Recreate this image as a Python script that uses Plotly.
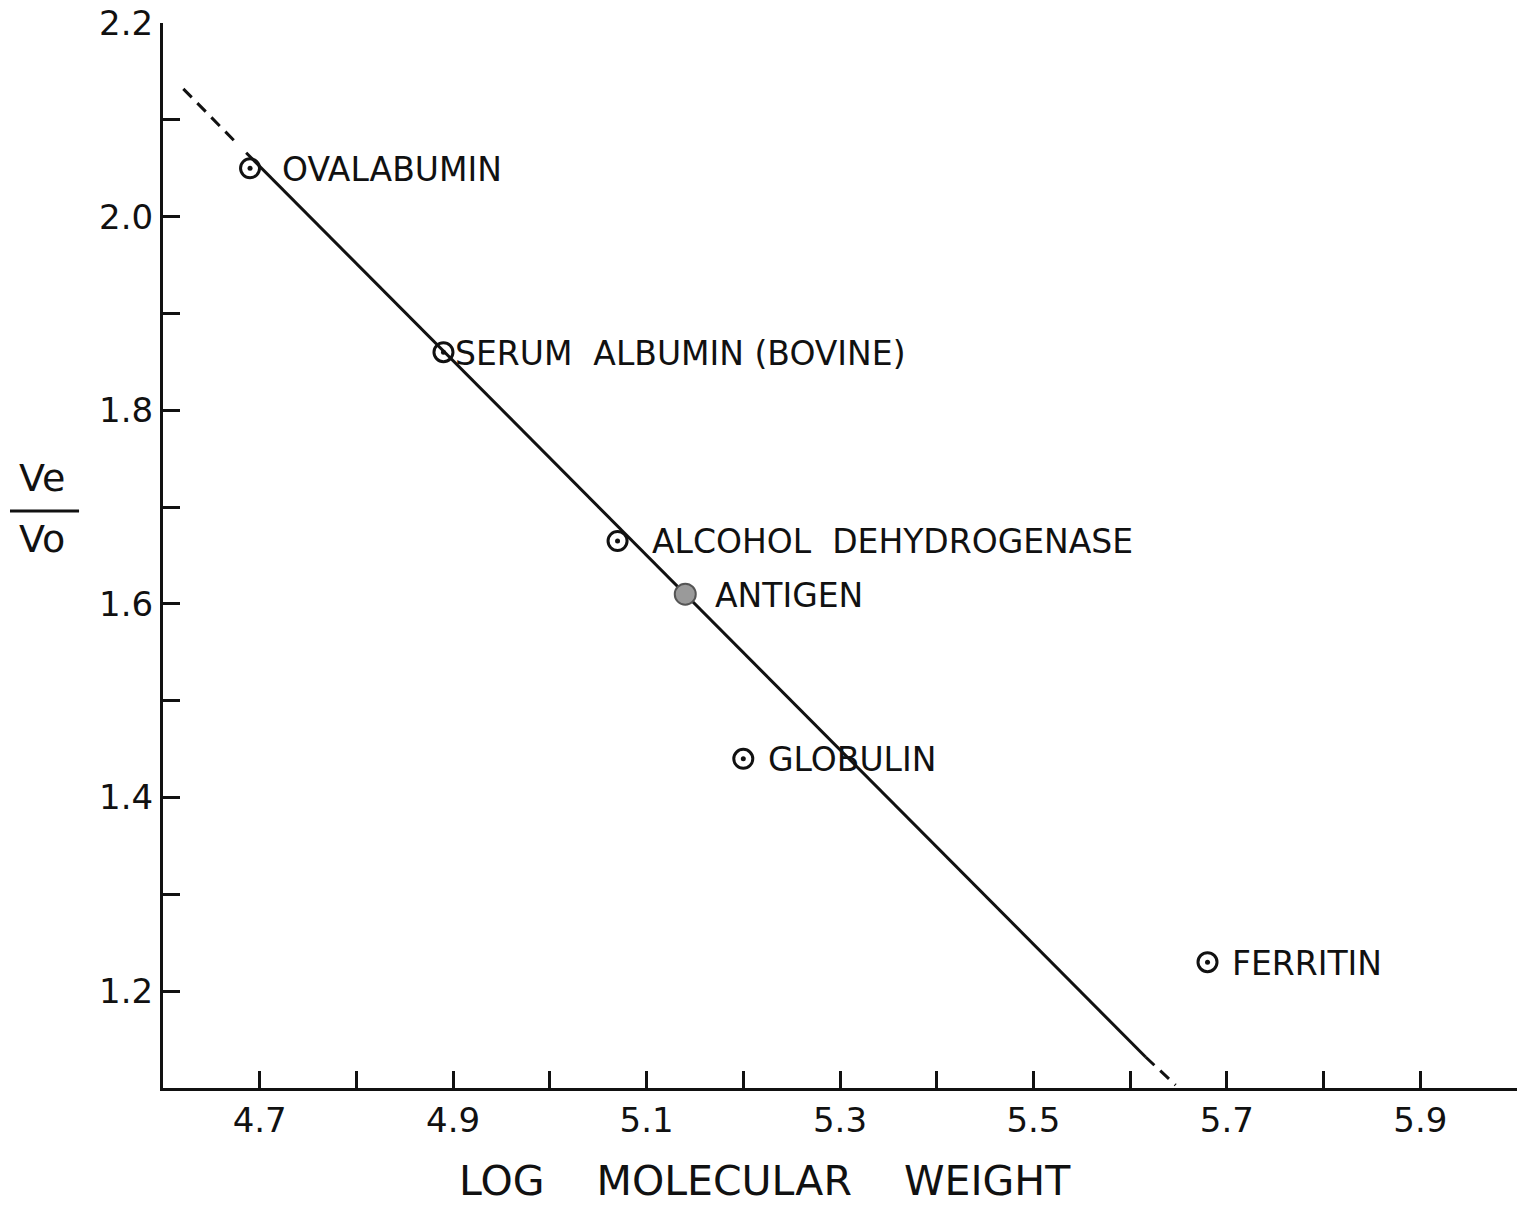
import plotly.graph_objects as go

# ---- data ----
proteins = ["OVALABUMIN", "SERUM\u00a0\u00a0ALBUMIN (BOVINE)", "ALCOHOL\u00a0\u00a0DEHYDROGENASE",
            "ANTIGEN", "GLOBULIN", "FERRITIN"]
log_mw = [4.69, 4.89, 5.07, 5.14, 5.20, 5.68]
ve_vo = [2.05, 1.86, 1.665, 1.61, 1.44, 1.23]
is_antigen = [False, False, False, True, False, False]

# fitted line (end points of the drawn segments)
fit_solid_x = [4.686, 5.616]
fit_solid_y = [2.066, 1.132]
fit_dash_lo_x = [4.621, 4.678]
fit_dash_lo_y = [2.132, 2.074]
fit_dash_hi_x = [5.616, 5.647]
fit_dash_hi_y = [1.132, 1.103]

x_major = [4.7, 4.9, 5.1, 5.3, 5.5, 5.7, 5.9]
x_major_text = ["4.7", "4.9", "5.1", "5.3", "5.5", "5.7", "5.9"]
x_minor = [4.8, 5.0, 5.2, 5.4, 5.6, 5.8, 6.0]
y_major = [1.2, 1.4, 1.6, 1.8, 2.0, 2.2]
y_major_text = ["1.2", "1.4", "1.6", "1.8", "2.0", "2.2"]
y_minor = [1.3, 1.5, 1.7, 1.9, 2.1]

FONT = "DejaVu Sans"
INK = "#111111"

fig = go.Figure()

for xs, ys, dash in [(fit_dash_lo_x, fit_dash_lo_y, "12px,8px"),
                     (fit_solid_x, fit_solid_y, "solid"),
                     (fit_dash_hi_x, fit_dash_hi_y, "12px,8px")]:
    fig.add_trace(go.Scatter(x=xs, y=ys, mode="lines",
                             line=dict(color=INK, width=3, dash=dash),
                             hoverinfo="skip", showlegend=False))

open_x = [x for x, a in zip(log_mw, is_antigen) if not a]
open_y = [y for y, a in zip(ve_vo, is_antigen) if not a]
filled_x = [x for x, a in zip(log_mw, is_antigen) if a]
filled_y = [y for y, a in zip(ve_vo, is_antigen) if a]

fig.add_trace(go.Scatter(x=open_x, y=open_y, mode="markers",
                         marker=dict(symbol="circle-open", size=19, color=INK,
                                     line=dict(width=3, color=INK)),
                         showlegend=False))
fig.add_trace(go.Scatter(x=open_x, y=open_y, mode="markers",
                         marker=dict(symbol="circle", size=5, color=INK),
                         showlegend=False, hoverinfo="skip"))
fig.add_trace(go.Scatter(x=filled_x, y=filled_y, mode="markers",
                         marker=dict(symbol="circle", size=21, color="#9a9a9a",
                                     line=dict(width=2, color="#555555")),
                         showlegend=False))

label_shift = [30, 10, 32, 28, 23, 22]
for name, x, y, s in zip(proteins, log_mw, ve_vo, label_shift):
    fig.add_annotation(x=x, y=y, text=name, showarrow=False, xanchor="left",
                       yanchor="middle", xshift=s, yshift=-1,
                       font=dict(family=FONT, size=33, color=INK))

# y-axis label Ve / Vo
fig.add_annotation(xref="paper", yref="paper", x=0, y=0.5728, xshift=-121,
                   text="Ve", showarrow=False, xanchor="center", yanchor="middle",
                   font=dict(family=FONT, size=38, color=INK))
fig.add_annotation(xref="paper", yref="paper", x=0, y=0.5155, xshift=-121,
                   text="Vo", showarrow=False, xanchor="center", yanchor="middle",
                   font=dict(family=FONT, size=38, color=INK))
fig.add_shape(type="line", xref="paper", yref="paper",
              x0=-0.113, x1=-0.062, y0=0.5418, y1=0.5418,
              line=dict(color=INK, width=3))

# x-axis title
sp = "\u00a0" * 4
fig.add_annotation(xref="paper", yref="paper", x=0.4446, y=0, yshift=-93,
                   text="LOG" + sp + "MOLECULAR" + sp + "WEIGHT", showarrow=False,
                   xanchor="center", yanchor="middle",
                   font=dict(family=FONT, size=41, color=INK))

fig.update_xaxes(range=[4.6, 6.0], tickmode="array", tickvals=x_major, ticktext=x_major_text,
                 ticks="inside", ticklen=17, tickwidth=3, tickcolor=INK,
                 showline=True, linewidth=3, linecolor=INK, showgrid=False, zeroline=False,
                 tickfont=dict(family=FONT, size=34, color=INK),
                 minor=dict(tickmode="array", tickvals=x_minor,
                            ticks="inside", ticklen=17, tickwidth=3, tickcolor=INK, showgrid=False))
fig.update_yaxes(range=[1.1, 2.2], tickmode="array", tickvals=y_major, ticktext=y_major_text,
                 ticks="inside", ticklen=17, tickwidth=3, tickcolor=INK,
                 showline=True, linewidth=3, linecolor=INK, showgrid=False, zeroline=False,
                 tickfont=dict(family=FONT, size=34, color=INK),
                 minor=dict(tickmode="array", tickvals=y_minor,
                            ticks="inside", ticklen=17, tickwidth=3, tickcolor=INK, showgrid=False))

fig.update_layout(width=1518, height=1208, margin=dict(l=163, r=1, t=23, b=120),
                  plot_bgcolor="white", paper_bgcolor="white", showlegend=False)

fig.write_html("out.html", config={"displayModeBar": False},
               post_script="document.body.style.margin='0';document.body.style.overflow='hidden';")
